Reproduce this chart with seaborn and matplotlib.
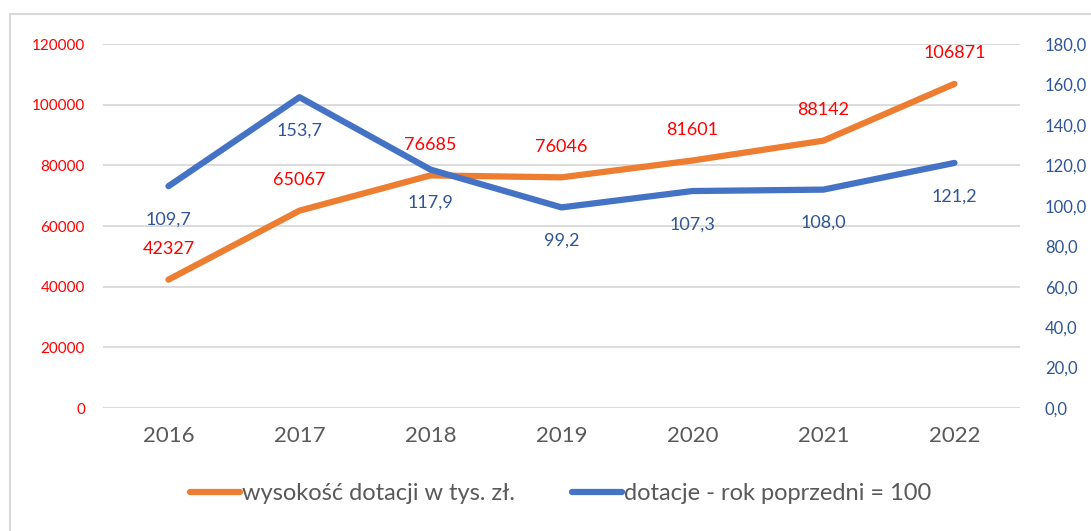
import seaborn as sns
import matplotlib.pyplot as plt
from matplotlib.patches import Rectangle
from matplotlib.ticker import FuncFormatter

years = ["2016", "2017", "2018", "2019", "2020", "2021", "2022"]
dotacje = [42327, 65067, 76685, 76046, 81601, 88142, 106871]
indeks = [109.7, 153.7, 117.9, 99.2, 107.3, 108.0, 121.2]

orange = "#ED7D31"
blue = "#4472C4"
dark_blue = "#2F5597"

sns.set_style("white")
plt.rcParams["font.family"] = ["Lato", "DejaVu Sans"]

fig = plt.figure(figsize=(10.91, 5.31), dpi=100)
ax = fig.add_axes([0.0944, 0.2316, 0.8405, 0.6855])
ax2 = ax.twinx()

sns.lineplot(x=years, y=dotacje, ax=ax, color=orange, linewidth=4.5,
             solid_capstyle="round", label="wysokość dotacji w tys. zł.", legend=False)
sns.lineplot(x=years, y=indeks, ax=ax2, color=blue, linewidth=4.5,
             solid_capstyle="round", label="dotacje - rok poprzedni = 100", legend=False)

ax.set_xlim(-0.5, 6.5)
ax.set_ylim(0, 120000)
ax.set_yticks(range(0, 120001, 20000))
ax2.set_ylim(0, 180)
ax2.set_yticks(range(0, 181, 20))
ax2.yaxis.set_major_formatter(FuncFormatter(lambda v, p: f"{v:.1f}".replace(".", ",")))

ax.grid(axis="y", color="#D9D9D9", linewidth=1.3)
ax.grid(axis="x", visible=False)
ax2.grid(False)
for a in (ax, ax2):
    for s in a.spines.values():
        s.set_visible(False)
    a.set_xlabel("")
    a.set_ylabel("")
ax.tick_params(axis="y", length=0, labelsize=11, labelcolor="#FF0000", pad=13)
ax.tick_params(axis="x", length=0, labelsize=16, labelcolor="#595959", pad=13)
ax2.tick_params(axis="y", length=0, labelsize=12, labelcolor=dark_blue, pad=18)

for i, v in enumerate(dotacje):
    ax.annotate(str(v), (i, v), xytext=(0, 22), textcoords="offset points",
                ha="center", va="center", color="#FF0000", fontsize=13)
for i, v in enumerate(indeks):
    ax2.annotate(f"{v:.1f}".replace(".", ","), (i, v), xytext=(0, -24),
                 textcoords="offset points", ha="center", va="center",
                 color=dark_blue, fontsize=13)

h1, l1 = ax.get_legend_handles_labels()
h2, l2 = ax2.get_legend_handles_labels()
fig.legend(h1 + h2, l1 + l2, loc="center", bbox_to_anchor=(0.514, 0.07), ncol=2,
           frameon=False, fontsize=17, labelcolor="#595959", handlelength=2.1,
           handletextpad=0.1, columnspacing=2.4)

fig.patches.append(Rectangle((10 / 1091, -0.01), 1.1, 1 - 14 / 531 + 0.01,
                             transform=fig.transFigure, fill=False,
                             edgecolor="#D9D9D9", linewidth=1.5))

fig.savefig("out.png", dpi=100)
